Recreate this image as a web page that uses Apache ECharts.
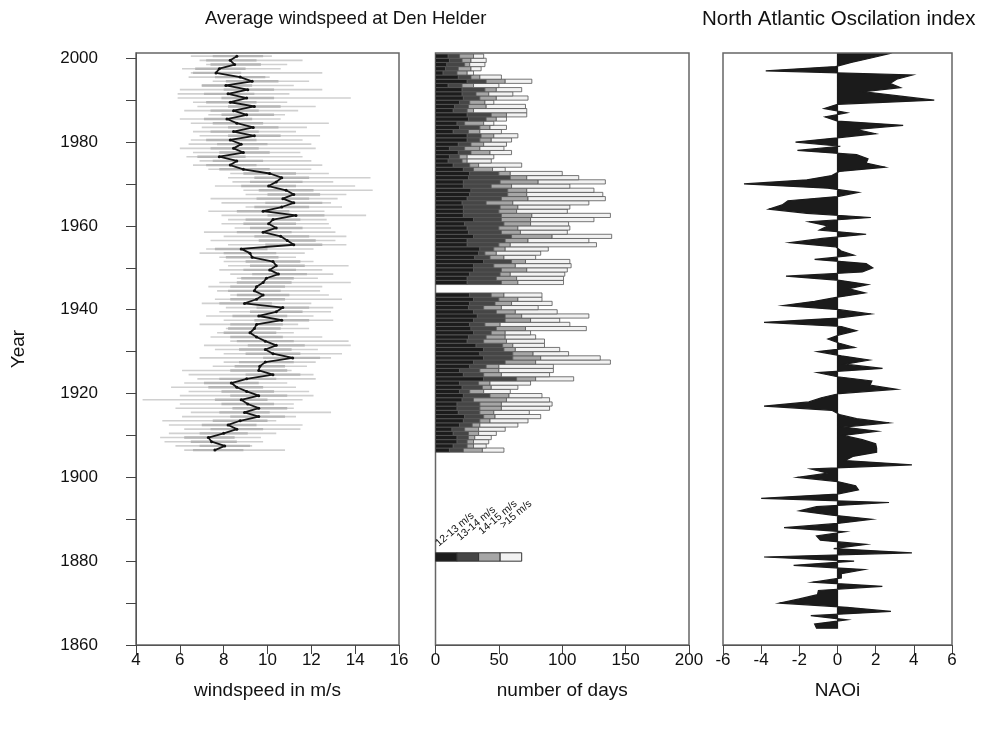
<!DOCTYPE html>
<html>
<head>
<meta charset="utf-8">
<script src="https://cdn.jsdelivr.net/npm/echarts@6/dist/echarts.min.js"></script>
<style>
  html, body { margin: 0; padding: 0; background: #fff; }
  #main { width: 997px; height: 736px; }
</style>
</head>
<body>
<div id="main"></div>
<script>
// years 1906..2000 for windspeed and storm days
const firstYear = 1906;
const windMean = [7.6,8.05,7.45,7.3,8.0,8.6,8.2,8.75,9.6,8.95,9.6,9.1,8.8,9.6,9.05,8.6,8.35,9.05,10.25,9.6,
  9.65,9.9,11.15,10.25,9.9,10.4,9.9,9.5,9.2,9.4,9.5,10.65,9.6,10.4,10.7,8.95,9.5,9.8,9.4,9.5,
  9.8,9.95,10.5,10.1,10.4,10.25,9.3,9.2,8.8,11.2,10.9,10.6,9.8,10.4,10.05,10.25,11.3,9.8,10.65,11.2,
  10.7,11.2,10.85,10.05,10.4,10.65,10.1,8.9,8.3,8.6,7.8,8.9,8.45,8.8,8.3,9.4,8.45,9.35,8.6,8.15,
  9.05,8.45,9.4,8.3,9.05,8.2,9.1,8.1,9.3,8.75,7.65,7.8,8.5,8.3,8.6];
const windMin = [6.2,5.8,5.3,5.1,5.5,6.2,5.5,5.2,6.1,6.5,5.8,6.0,4.3,6.0,6.4,5.6,6.2,6.8,6.4,6.1,
  7.5,8.0,6.9,8.0,7.6,7.1,8.3,7.4,7.7,8.1,6.9,8.0,7.2,7.8,8.1,7.0,7.6,8.3,7.7,7.3,
  7.8,8.6,8.3,7.8,8.2,8.0,7.8,6.9,7.2,8.2,7.4,8.0,7.1,8.5,7.9,8.2,7.9,7.3,9.0,7.9,
  7.4,9.0,8.9,7.6,8.4,8.2,8.3,7.3,6.6,6.9,6.3,6.6,6.0,6.4,6.5,6.9,6.6,7.0,6.5,6.0,
  7.3,6.2,6.8,6.6,5.9,5.9,6.0,7.0,7.5,6.4,6.5,6.1,7.2,6.9,6.5];
const windMax = [10.8,9.3,9.8,9.7,10.4,11.5,11.6,10.4,11.3,12.9,11.2,11.2,11.6,12.1,11.9,11.3,10.9,12.2,12.1,11.1,
  11.8,12.2,12.9,13.4,12.3,13.8,13.7,12.5,11.2,11.9,11.4,13.0,12.1,12.9,13.0,12.0,13.4,12.8,12.4,12.5,
  13.8,12.3,13.0,12.5,13.7,12.1,11.3,11.7,12.1,13.6,13.1,13.6,13.1,12.9,12.8,12.7,14.5,12.6,13.4,12.9,
  13.2,13.6,14.8,14.0,13.0,14.7,12.8,12.0,12.5,12.0,11.6,11.5,12.2,12.0,11.6,12.4,11.3,11.8,12.8,10.6,
  10.8,11.4,12.2,10.9,13.8,11.0,12.5,11.2,11.9,10.1,12.5,10.6,10.9,11.6,10.2];
const windLo = [6.6,6.9,6.5,6.2,6.9,7.4,7.0,7.5,8.3,7.8,8.4,7.9,7.6,8.3,7.9,7.3,7.1,7.8,9.0,8.3,
  8.5,8.7,9.8,9.0,8.7,9.1,8.6,8.3,8.0,8.2,8.3,9.4,8.4,9.2,9.5,7.8,8.3,8.6,8.2,8.3,
  8.6,8.8,9.3,8.9,9.2,9.0,8.1,8.0,7.6,9.9,9.6,9.4,8.6,9.2,8.9,9.0,10.0,8.6,9.4,9.9,
  9.5,10.0,9.6,8.8,9.2,9.4,8.9,7.8,7.2,7.5,6.8,7.8,7.4,7.7,7.2,8.2,7.4,8.2,7.5,7.1,
  7.9,7.4,8.2,7.2,7.9,7.1,8.0,7.0,8.1,7.6,6.6,6.7,7.4,7.2,7.5];
const windHi = [8.9,9.2,8.6,8.5,9.1,9.8,9.5,10.0,10.8,10.1,10.9,10.3,10.0,10.9,10.3,9.8,9.6,10.4,11.5,10.9,
  10.8,11.2,12.4,11.5,11.1,11.7,11.2,10.7,10.4,10.6,10.7,11.9,10.9,11.6,11.9,10.2,10.8,11.0,10.6,10.8,
  11.1,11.2,11.8,11.3,11.7,11.5,10.5,10.4,10.0,12.5,12.2,11.9,11.1,11.6,11.3,11.5,12.6,11.0,11.9,12.5,
  11.9,12.4,12.1,11.3,11.6,11.9,11.3,10.1,9.5,9.8,9.0,10.1,9.6,10.0,9.5,10.6,9.6,10.5,9.8,9.3,
  10.3,9.6,10.6,9.5,10.3,9.4,10.3,9.3,10.5,9.9,8.8,9.0,9.7,9.5,9.8];

// days per year in each windspeed class (null = no data, 1944-1945)
const days12 = [11,14,17,17,14,13,19,22,23,18,17,17,21,22,19,21,19,38,22,19,
  27,30,38,35,38,32,25,26,30,28,27,30,33,30,26,27,30,27,null,null,
  25,25,27,30,30,38,31,34,35,25,25,30,26,25,23,30,22,22,22,21,
  25,27,28,22,22,26,27,22,14,10,11,18,11,18,25,25,14,19,17,26,
  25,14,15,19,22,21,21,10,25,18,6,8,9,11,10];
const days13 = [11,11,8,9,12,10,10,13,15,17,18,18,9,21,8,16,15,26,16,16,
  13,25,23,26,16,21,13,14,14,20,12,25,22,18,12,20,20,17,null,null,
  27,23,24,22,16,22,12,5,11,25,30,30,26,25,31,22,30,28,29,19,
  27,30,29,22,29,33,23,8,13,11,8,10,12,10,10,11,12,16,6,14,
  19,11,11,8,13,11,18,11,15,10,11,10,14,10,9];
const days14 = [15,5,5,5,8,11,6,8,9,11,17,17,26,15,11,7,9,15,14,15,
  10,24,22,16,9,8,18,15,11,23,12,20,13,15,14,13,15,10,null,null,
  13,16,8,20,17,11,11,9,9,9,18,32,15,15,21,23,24,14,14,21,
  21,15,15,16,30,13,9,15,7,4,6,15,12,10,9,10,9,8,15,8,
  12,5,14,12,13,10,9,9,15,7,8,10,4,7,11];
const days15 = [17,10,12,13,14,21,30,30,36,28,38,40,34,26,21,21,32,30,38,43,
  43,59,47,28,35,25,30,24,20,48,55,23,53,33,29,32,19,30,null,null,
  36,37,43,32,44,35,25,35,34,68,48,47,37,41,30,50,62,40,41,60,
  61,60,53,46,53,41,41,10,34,19,21,17,19,18,16,19,17,13,8,8,
  16,42,31,7,25,19,20,20,21,17,5,8,12,12,8];
const classLabels = ['12-13 m/s', '13-14 m/s', '14-15 m/s', '>15 m/s'];
const legendDays = [17, 17, 17, 17];
const legendYear = 1880;

// North Atlantic Oscillation index, 1864..2001
const naoFirstYear = 1864;
const nao = [-1.1,-1.2,0.5,-1.4,2.8,0.5,-3.05,-2.0,-1.05,-1.0,
  2.35,-1.3,0.2,0.2,1.4,-2.3,0.87,-3.85,3.9,-0.2,
  1.5,-0.9,-1.1,0.4,-2.8,0.0,1.8,-0.3,-2.0,-1.1,
  2.7,-4.0,0.0,1.1,0.95,0.0,-2.1,-0.5,-1.4,3.9,
  0.4,0.8,2.05,2.05,2.0,1.3,0.3,2.1,0.3,2.7,
  1.0,0.1,-0.3,-3.85,-1.5,-0.85,0.1,3.1,1.7,1.8,
  0.0,-1.05,2.36,0.4,1.67,0.2,-1.05,0.9,0.1,-0.5,
  0.1,1.0,0.2,-3.85,0.0,1.75,0.1,-2.85,-1.2,0.0,
  1.45,0.6,1.6,0.1,-2.7,1.3,1.85,1.5,-1.2,0.87,
  0.2,-0.1,-2.5,-0.8,1.5,-0.95,-0.5,-1.5,1.75,-1.6,
  -3.6,-2.9,-2.6,0.0,1.1,-0.5,-4.9,-1.6,-0.3,0.1,
  2.5,1.5,1.6,1.0,-2.1,0.15,-2.2,0.0,2.0,1.0,
  3.44,0.0,-0.65,0.5,-0.7,0.0,5.07,3.2,1.4,3.3,
  2.75,3.1,3.93,-3.76,-0.1,0.72,1.7,2.62];

const yTicks = [1860,1870,1880,1890,1900,1910,1920,1930,1940,1950,1960,1970,1980,1990,2000];
const yLabels = [1860,1880,1900,1920,1940,1960,1980,2000];

const FONT = 'Liberation Sans, Arial, sans-serif';
const years = windMean.map((_, i) => firstYear + i);
const naoYears = nao.map((_, i) => naoFirstYear + i);

const windRows = years.map((y, i) => [y, windMin[i], windMax[i], windLo[i], windHi[i]]);
const meanLine = years.map((y, i) => [windMean[i], y + 0.5]);
const dayRows = [];
years.forEach((y, i) => {
  if (days12[i] != null) dayRows.push([y, days12[i], days13[i], days14[i], days15[i]]);
});
const classColors = ['#1c1c1c', '#464646', '#a6a6a6', '#f2f2f2'];

const TOP = 53, H = 592;
const grids = [
  { left: 136, top: TOP, width: 263, height: H },
  { left: 435.5, top: TOP, width: 253.5, height: H },
  { left: 723, top: TOP, width: 229, height: H }
];

function xAx(idx, min, max, interval, name) {
  return {
    type: 'value', gridIndex: idx, min: min, max: max, interval: interval,
    name: name, nameLocation: 'middle', nameGap: 36,
    nameTextStyle: { fontFamily: FONT, fontSize: 19, color: '#111' },
    axisLine: { show: true, lineStyle: { color: '#555', width: 1 } },
    axisTick: { show: true, length: 9, lineStyle: { color: '#444', width: 1 } },
    axisLabel: { fontFamily: FONT, fontSize: 17, color: '#111', margin: 7,
      formatter: v => String(v) },
    splitLine: { show: false }
  };
}
function yAx(idx, visible) {
  return {
    type: 'value', gridIndex: idx, min: 1860, max: 2001.25,
    name: visible ? 'Year' : '', nameLocation: 'middle', nameGap: 108, nameRotate: 90,
    nameTextStyle: { fontFamily: FONT, fontSize: 19, color: '#111' },
    axisLine: { show: visible, lineStyle: { color: '#555' } },
    axisTick: { show: visible, length: 10, customValues: yTicks, lineStyle: { color: '#444' } },
    axisLabel: { show: visible, customValues: yLabels, fontFamily: FONT, fontSize: 17, color: '#111', margin: 38,
      formatter: v => String(v) },
    splitLine: { show: false }
  };
}

const chart = echarts.init(document.getElementById('main'), null, { renderer: 'canvas' });
chart.setOption({
  animation: false,
  backgroundColor: '#fff',
  title: [
    { text: 'Average windspeed at Den Helder', left: 200, top: 4,
      textStyle: { fontFamily: FONT, fontSize: 18.5, fontWeight: 'normal', color: '#111' } },
    { text: 'North Atlantic Oscilation index', left: 697, top: 4,
      textStyle: { fontFamily: FONT, fontSize: 20.5, fontWeight: 'normal', color: '#111' } }
  ],
  grid: grids.map(g => Object.assign({ show: true, borderColor: '#666', borderWidth: 1.5, backgroundColor: 'transparent' }, g)),
  xAxis: [
    xAx(0, 4, 16, 2, 'windspeed in m/s'),
    xAx(1, 0, 200, 50, 'number of days'),
    xAx(2, -6, 6, 2, 'NAOi')
  ],
  yAxis: [yAx(0, true), yAx(1, false), yAx(2, false)],
  series: [
    {
      type: 'custom', xAxisIndex: 0, yAxisIndex: 0,
      data: windRows, encode: { x: [1, 2], y: 0 },
      renderItem: function (params, api) {
        const y = api.value(0) + 0.5;
        const a = api.coord([api.value(1), y]);
        const b = api.coord([api.value(2), y]);
        const c = api.coord([api.value(3), y]);
        const d = api.coord([api.value(4), y]);
        return { type: 'group', children: [
          { type: 'line', shape: { x1: a[0], y1: a[1], x2: b[0], y2: b[1] }, style: { stroke: '#d0d0d0', lineWidth: 1.6 } },
          { type: 'line', shape: { x1: c[0], y1: c[1], x2: d[0], y2: d[1] }, style: { stroke: '#b6b6b6', lineWidth: 2.4 } }
        ] };
      }
    },
    {
      type: 'line', xAxisIndex: 0, yAxisIndex: 0, data: meanLine,
      symbol: 'circle', symbolSize: 3, showSymbol: true,
      itemStyle: { color: '#111' },
      lineStyle: { color: '#151515', width: 1.8 }, z: 5
    },
    {
      type: 'custom', xAxisIndex: 1, yAxisIndex: 1,
      data: dayRows, encode: { x: [1, 2, 3, 4], y: 0 },
      renderItem: function (params, api) {
        const yr = api.value(0);
        const kids = [];
        let x0 = 0;
        for (let k = 1; k <= 4; k++) {
          const v = api.value(k);
          const p0 = api.coord([x0, yr + 1]);
          const p1 = api.coord([x0 + v, yr]);
          kids.push({ type: 'rect',
            shape: { x: p0[0], y: p0[1], width: p1[0] - p0[0], height: p1[1] - p0[1] },
            style: { fill: classColors[k - 1], stroke: '#555', lineWidth: 0.8 } });
          x0 += v;
        }
        return { type: 'group', children: kids };
      }
    },
    {
      type: 'custom', xAxisIndex: 1, yAxisIndex: 1,
      data: legendDays.map((v, i) => [i, v]),
      renderItem: function (params, api) {
        const i = api.value(0);
        let x0 = 0;
        for (let k = 0; k < i; k++) x0 += legendDays[k];
        const p0 = api.coord([x0, legendYear + 2]);
        const p1 = api.coord([x0 + api.value(1), legendYear]);
        return { type: 'group', children: [
          { type: 'rect', shape: { x: p0[0], y: p0[1], width: p1[0] - p0[0], height: p1[1] - p0[1] },
            style: { fill: classColors[i], stroke: '#333', lineWidth: 1 } },
          { type: 'text', x: p0[0] + 5, y: p0[1] - 4 - i * 6, rotation: 0.7,
            style: { text: classLabels[i], x: 0, y: 0, align: 'left', verticalAlign: 'bottom',
              font: '10.5px ' + FONT, fill: '#111' } }
        ] };
      }
    },
    {
      type: 'custom', xAxisIndex: 2, yAxisIndex: 2,
      data: nao.map((v, i) => [v, naoYears[i]]), encode: { x: 0, y: 1 },
      renderItem: function (params, api) {
        if (params.dataIndex !== 0) return null;
        const pts = [api.coord([0, naoYears[0]])];
        nao.forEach((v, i) => pts.push(api.coord([v, naoYears[i]])));
        pts.push(api.coord([0, naoYears[naoYears.length - 1]]));
        return { type: 'polygon', shape: { points: pts },
          style: { fill: '#1b1b1b', stroke: '#1b1b1b', lineWidth: 1.2 } };
      }
    }
  ]
});
</script>
</body>
</html>
